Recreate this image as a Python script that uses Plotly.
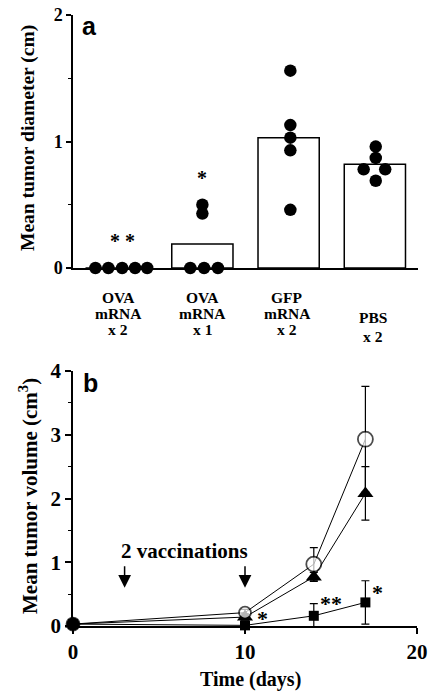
import plotly.graph_objects as go

# ---------------- Panel a data ----------------
group_lines = [["OVA", "mRNA", "x 2"], ["OVA", "mRNA", "x 1"], ["GFP", "mRNA", "x 2"], ["PBS", "x 2"]]
bar_means = [0.0, 0.19, 1.03, 0.82]
dots_g1 = [0.0, 0.0, 0.0, 0.0, 0.0]
dots_g2 = [0.0, 0.0, 0.0, 0.50, 0.43]
dots_g3 = [1.56, 1.13, 1.03, 0.93, 0.46]
dots_g4 = [0.96, 0.87, 0.78, 0.78, 0.69]
jitter_g1 = [-0.24, -0.09, 0.07, 0.22, 0.36]
jitter_g2 = [-0.14, 0.02, 0.18, 0.0, 0.0]
jitter_g3 = [0.02, 0.02, 0.02, 0.02, 0.02]
jitter_g4 = [0.01, 0.01, -0.13, 0.12, 0.01]

# ---------------- Panel b data ----------------
days = [0, 10, 14, 17]
circ_vals = [0.03, 0.21, 0.97, 2.93]
circ_err = [0.0, 0.05, 0.26, 0.83]
tri_vals = [0.03, 0.14, 0.77, 2.08]
tri_err = [0.0, 0.05, 0.07, 0.42]
sq_vals = [0.03, 0.01, 0.16, 0.37]
sq_err = [0.0, 0.0, 0.19, 0.34]

SERIF = "Liberation Serif"
SANS = "Liberation Sans"
W, H = 432, 692

def px(x):
    return x / W

def py(y):
    return 1 - y / H

fig = go.Figure()

# bars
fig.add_trace(go.Bar(
    x=list(range(len(bar_means))), y=bar_means, width=0.71,
    marker=dict(color="white", line=dict(color="black", width=1.5)),
    xaxis="x", yaxis="y", showlegend=False))

for i, (vals, jit) in enumerate([(dots_g1, jitter_g1), (dots_g2, jitter_g2),
                                 (dots_g3, jitter_g3), (dots_g4, jitter_g4)]):
    fig.add_trace(go.Scatter(
        x=[i + j for j in jit], y=vals, mode="markers",
        marker=dict(color="black", size=12.5, line=dict(width=0)),
        cliponaxis=False, xaxis="x", yaxis="y", showlegend=False))

# panel b lines
err_style = dict(type="data", color="black", thickness=1.2, width=4)
fig.add_trace(go.Scatter(
    x=days, y=tri_vals, mode="lines+markers",
    line=dict(color="black", width=1),
    marker=dict(symbol="triangle-up", size=14, color="black"),
    error_y=dict(array=tri_err, **err_style),
    cliponaxis=False, xaxis="x2", yaxis="y2", showlegend=False))
fig.add_trace(go.Scatter(
    x=days, y=circ_vals, mode="lines+markers",
    line=dict(color="black", width=1),
    marker=dict(symbol="circle", size=[13, 12, 15, 15], color="white",
                line=dict(color="black", width=1.8)),
    error_y=dict(array=circ_err, **err_style),
    cliponaxis=False, xaxis="x2", yaxis="y2", showlegend=False))
fig.add_trace(go.Scatter(
    x=days, y=sq_vals, mode="lines+markers",
    line=dict(color="black", width=1),
    marker=dict(symbol="square", size=10, color="black"),
    error_y=dict(array=sq_err, **err_style),
    cliponaxis=False, xaxis="x2", yaxis="y2", showlegend=False))
# day-0 combined marker
fig.add_trace(go.Scatter(
    x=[days[0]], y=[sq_vals[0]], mode="markers",
    marker=dict(symbol="circle", size=13, color="black"),
    cliponaxis=False, xaxis="x2", yaxis="y2", showlegend=False))

axis_common = dict(showgrid=False, zeroline=False, showline=True, linecolor="black",
                   linewidth=1.5, tickcolor="black", tickwidth=1.5, fixedrange=True,
                   automargin=False)

fig.update_layout(
    template="none",
    width=W, height=H, margin=dict(l=0, r=0, t=0, b=0, pad=0, autoexpand=False),
    paper_bgcolor="white", plot_bgcolor="white",
    font=dict(family=SERIF, color="black"),
    xaxis=dict(domain=[px(73), px(418)], range=[-0.5, 3.5], anchor="y",
               showticklabels=False, ticks="", **axis_common),
    yaxis=dict(domain=[py(268), py(15)], range=[0, 2], anchor="x",
               tickvals=[0, 1, 2], ticks="outside", ticklen=5,
               minor=dict(tickvals=[0.5, 1.5], ticks="outside", ticklen=3,
                          tickcolor="black", tickwidth=1.2, showgrid=False),
               tickfont=dict(family=SERIF, size=18, weight="bold"), **axis_common),
    xaxis2=dict(domain=[px(73), px(417)], range=[0, 20], anchor="y2",
                tickvals=[0, 10, 20], ticks="outside", ticklen=6,
                tickfont=dict(family=SERIF, size=21, weight="bold"), **axis_common),
    yaxis2=dict(domain=[py(626), py(371)], range=[0, 4], anchor="x2",
                tickvals=[0, 1, 2, 3, 4], ticks="outside", ticklen=6,
                minor=dict(tickvals=[0.5, 1.5, 2.5, 3.5], ticks="outside", ticklen=3,
                           tickcolor="black", tickwidth=1.2, showgrid=False),
                tickfont=dict(family=SERIF, size=21, weight="bold"), **axis_common),
)

ann = []
def text(x, y, s, size, family=SERIF, xref="paper", yref="paper", angle=0,
         xanchor="center", yanchor="middle"):
    ann.append(dict(x=x, y=y, xref=xref, yref=yref, text=s, showarrow=False,
                    textangle=angle, xanchor=xanchor, yanchor=yanchor,
                    font=dict(family=family, size=size, color="black", weight="bold")))

# panel labels
text(px(89), py(26), "a", 25, family=SANS)
text(px(90), py(383), "b", 25, family=SANS)
# y titles
text(px(28), py(138), "Mean tumor diameter (cm)", 19.5, angle=-90)
text(px(28), py(496), "Mean tumor volume (cm<sup>3</sup>)", 21, angle=-90)
# x title
text(px(250), py(679), "Time (days)", 20)
# category labels, one line each
label_x = [118, 202, 287, 373]
for i, lines in enumerate(group_lines):
    ys = [297, 313, 329] if len(lines) == 3 else [317, 336]
    for line, yy in zip(lines, ys):
        text(px(label_x[i]), py(yy), line, 15.5)
# stars panel a
text(0.07, 0.21, "* *", 20, xref="x", yref="y")
text(1.0, 0.71, "*", 20, xref="x", yref="y")
# stars panel b
text(11.0, 0.11, "*", 22, xref="x2", yref="y2")
text(15.0, 0.35, "**", 22, xref="x2", yref="y2")
text(17.7, 0.53, "*", 22, xref="x2", yref="y2")
# vaccination text
text(6.5, 1.17, "2 vaccinations", 21, xref="x2", yref="y2")

for xd in [3, 10]:
    ann.append(dict(x=xd, y=0.6, xref="x2", yref="y2", ax=xd, ay=0.96,
                    axref="x2", ayref="y2", showarrow=True, arrowhead=2,
                    arrowsize=1.7, arrowwidth=1.5, arrowcolor="black", text=""))

fig.update_layout(annotations=ann)
fig.write_html("out.html", config={"displayModeBar": False},
               post_script="document.body.style.margin='0';document.body.style.overflow='hidden';")
